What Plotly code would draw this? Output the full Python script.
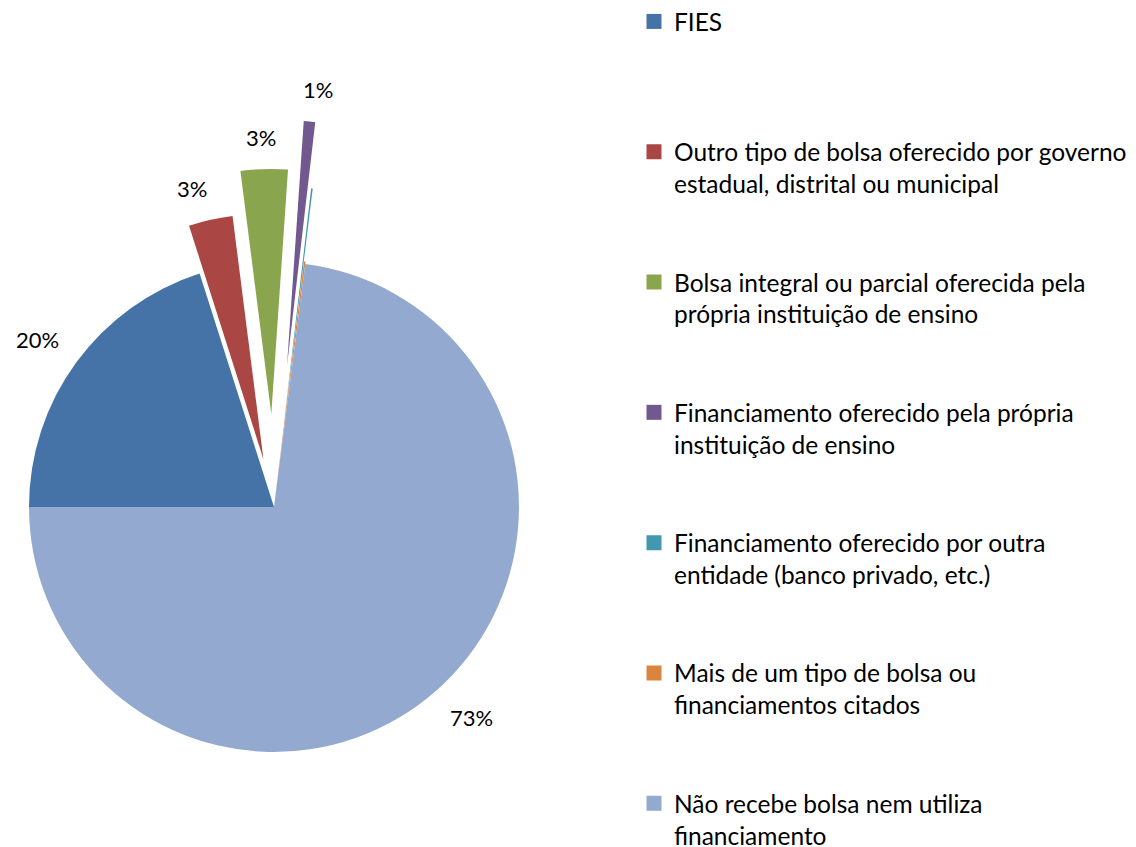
import math
import plotly.graph_objects as go

# slice order as in the source chart (clockwise, starting at 9 o'clock)
categories = [
    "FIES",
    "Outro tipo de bolsa oferecido por governo estadual, distrital ou municipal",
    "Bolsa integral ou parcial oferecida pela própria instituição de ensino",
    "Financiamento oferecido pela própria instituição de ensino",
    "Financiamento oferecido por outra entidade (banco privado, etc.)",
    "Mais de um tipo de bolsa ou financiamentos citados",
    "Não recebe bolsa nem utiliza financiamento",
]
legend_names = [
    "FIES",
    "Outro tipo de bolsa oferecido por governo<br>estadual, distrital ou municipal",
    "Bolsa integral ou parcial oferecida pela<br>própria instituição de ensino",
    "Financiamento oferecido pela própria<br>instituição de ensino",
    "Financiamento oferecido por outra<br>entidade (banco privado, etc.)",
    "Mais de um tipo de bolsa ou<br>financiamentos citados",
    "Não recebe bolsa nem utiliza<br>financiamento",
]
values = [20.1, 2.9, 3.1, 0.75, 0.1, 0.1, 73.0]
pulls = [0, 0.2, 0.38, 0.58, 0.31, 0.01, 0]   # exploded distance, fraction of radius
colors = ["#4572A7", "#AA4643", "#89A54E", "#71588F", "#4198AF", "#DB843D", "#93A9CF"]

# page has an 8px body margin at top/left
W, H = 1128, 839
cx, cy, R = 266, 499, 245      # pie centre / radius in px
rotation = 270
LABEL_GAP = 22                 # space between slice edge and its % label
LABEL_FS = 22
FONT = "Lato"
CLEAR = "rgba(0,0,0,0)"

total = sum(values)
pct = [v / total * 100 for v in values]
pct_text = [f"{p:.0f}%" if p >= 0.5 else "" for p in pct]


def box(x, y, r):
    return dict(x=[(x - r) / W, (x + r) / W], y=[1 - (y + r) / H, 1 - (y - r) / H])


def side(s):
    # -1..1, snaps to +-1 away from the vertical/horizontal axis
    return math.copysign(min(1.0, abs(s) / 0.2), s)


fig = go.Figure()

# plotly shrinks the whole pie when a slice is pulled, so each exploded
# slice is drawn as its own pie trace with the centre shifted instead
angle = rotation
for i, v in enumerate(values):
    span = v / total * 360
    mid = math.radians(angle + span / 2)
    angle += span
    sx, sy = math.sin(mid), -math.cos(mid)
    d = pulls[i] * R
    px_ = cx + d * sx
    py_ = cy + d * sy
    fig.add_trace(go.Pie(
        labels=categories, values=values, sort=False,
        direction="clockwise", rotation=rotation,
        marker=dict(colors=[c if j == i else CLEAR for j, c in enumerate(colors)],
                    line=dict(width=0)),
        textinfo="none",
        domain=box(px_, py_, R),
        hoverinfo="skip", showlegend=False,
    ))
    if pct_text[i]:
        # label box corner just clear of the slice edge, on the bisector
        half_w = 0.32 * LABEL_FS * len(pct_text[i])
        half_h = 10
        ex = px_ + (R + LABEL_GAP) * sx
        ey = py_ + (R + LABEL_GAP) * sy
        fig.add_annotation(
            x=(ex + side(sx) * half_w) / W, y=1 - (ey + side(sy) * half_h) / H,
            xref="paper", yref="paper", xanchor="center", yanchor="middle",
            text=pct_text[i], showarrow=False,
            font=dict(family=FONT, size=LABEL_FS, color="black"),
        )

# legend: one legend box per entry so they can be spaced like the original
LEG_FS = 24.5
first_line, step = 14, 130.3
legends = {}
for i, name in enumerate(legend_names):
    lid = "legend" if i == 0 else f"legend{i + 1}"
    fig.add_trace(go.Scatter(
        x=[None], y=[None], mode="markers",
        marker=dict(symbol="square", size=15, color=colors[i]),
        name=name, legend=lid, showlegend=True,
    ))
    top = first_line + i * step - 23
    legends[lid] = dict(
        x=626 / W, y=1 - top / H, xanchor="left", yanchor="top",
        valign="top",
        font=dict(family=FONT, size=LEG_FS, color="black"),
        bgcolor="rgba(0,0,0,0)",
    )

fig.update_layout(
    width=W, height=H,
    margin=dict(l=0, r=0, t=0, b=0, autoexpand=False),
    paper_bgcolor="white",
    plot_bgcolor="white",
    xaxis=dict(visible=False),
    yaxis=dict(visible=False),
    font=dict(family=FONT, color="black"),
    **legends,
)

fig.write_html("out.html")
